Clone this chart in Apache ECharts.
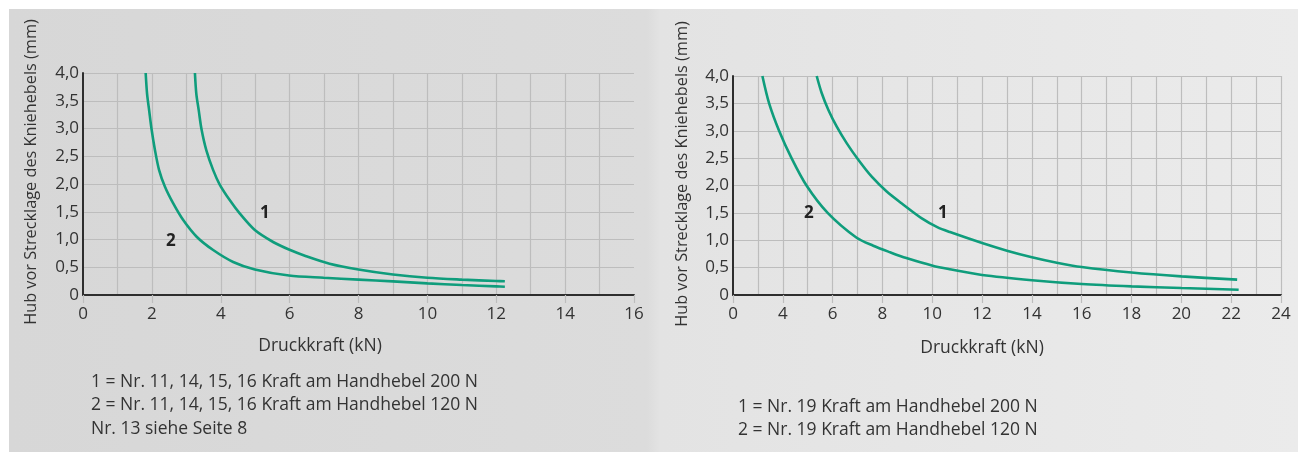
<!DOCTYPE html>
<html><head><meta charset="utf-8">
<script src="https://cdn.jsdelivr.net/npm/echarts@6/dist/echarts.min.js"></script>
<style>
html,body{margin:0;padding:0;background:#fff;}
#wrap{position:relative;width:1298px;height:452px;overflow:hidden;background:#fff;}
#bg{position:absolute;left:9px;top:9px;right:0;bottom:0;background:linear-gradient(to right,#d7d7d7 0%,#dcdcdc 49.5%,#e3e3e3 50.5%,#ebebeb 100%);}
#chart{position:absolute;left:0;top:0;width:1298px;height:452px;}
</style></head>
<body><div id="wrap"><div id="bg"></div><div id="chart"></div></div>
<script>
// ---- data ----
const leftCurve1 = [[3.25,4.0],[3.29,3.63],[3.36,3.33],[3.44,2.99],[3.58,2.61],[3.78,2.25],[3.97,1.99],[4.26,1.71],[4.55,1.47],[4.99,1.17],[5.52,0.955],[5.98,0.82],[6.48,0.70],[7.16,0.565],[8,0.46],[9,0.37],[10,0.31],[11,0.277],[12,0.252],[12.25,0.247]];
const leftCurve2 = [[1.82,4.0],[1.86,3.63],[1.92,3.33],[1.99,2.99],[2.09,2.61],[2.21,2.25],[2.38,1.95],[2.62,1.65],[2.91,1.35],[3.30,1.05],[3.78,0.81],[4.36,0.595],[4.99,0.46],[5.98,0.35],[6.99,0.31],[8,0.277],[9,0.245],[10,0.21],[11,0.18],[12,0.155],[12.25,0.148]];
const rightCurve1 = [[5.36,4.0],[5.56,3.69],[5.83,3.38],[6.16,3.08],[6.57,2.77],[7.03,2.47],[7.57,2.16],[8.17,1.89],[8.84,1.65],[9.58,1.40],[10.2,1.24],[10.71,1.15],[12,0.95],[13,0.81],[14,0.69],[15,0.59],[16,0.51],[18,0.41],[20,0.34],[22.24,0.28]];
const rightCurve2 = [[3.18,4.0],[3.45,3.5],[3.85,3.0],[4.35,2.5],[4.95,2.0],[5.8,1.5],[6.95,1.05],[7.63,0.90],[8.31,0.78],[8.96,0.675],[10.02,0.535],[10.71,0.47],[12,0.365],[14,0.27],[16,0.2],[18,0.157],[20,0.127],[22.3,0.097]];

const yTickLabels = ['0','0,5','1,0','1,5','2,0','2,5','3,0','3,5','4,0'];
const xTickLabelsLeft = ['0','2','4','6','8','10','12','14','16'];
const xTickLabelsRight = ['0','4','6','8','10','12','14','16','18','20','22','24'];

const curveLabelsLeft = [{name:'1', coord:[5.28,1.47]},{name:'2', coord:[2.55,0.97]}];
const curveLabelsRight = [{name:'1', coord:[10.43,1.5]},{name:'2', coord:[5.05,1.5]}];

const yAxisTitle = 'Hub vor Strecklage des Kniehebels (mm)';
const xAxisTitle = 'Druckkraft (kN)';
const notesLeft = ['1 = Nr. 11, 14, 15, 16 Kraft am Handhebel 200 N','2 = Nr. 11, 14, 15, 16 Kraft am Handhebel 120 N','Nr. 13 siehe Seite 8'];
const notesRight = ['1 = Nr. 19 Kraft am Handhebel 200 N','2 = Nr. 19 Kraft am Handhebel 120 N'];

// ---- styles ----
const FONT = '"Open Sans", sans-serif';
const TXT = '#333333';
const GRIDC = '#bdbdbd';
const CURVE = '#0f9d7c';

function xAxisCfg(idx, min, max, labels, padR, gap, showMax) {
  return {
    type:'value', gridIndex: idx, min: min, max: max, interval: 2,
    name: xAxisTitle, nameLocation:'middle', nameGap: gap,
    nameTextStyle:{fontFamily:FONT, fontSize:17.5, color:TXT, padding:[0,padR,0,0]},
    axisLine:{show:true, onZero:false, lineStyle:{color:'#2e2e2e', width:2}},
    axisTick:{show:true, length:8, lineStyle:{color:GRIDC, width:1.2}},
    axisLabel:{fontFamily:FONT, fontSize:17, color:TXT, margin:11,
      formatter: v => labels[Math.round((v-min)/2)]},
    splitLine:{show:true, showMinLine:false, showMaxLine:showMax, lineStyle:{color:GRIDC, width:1.2}},
    minorTick:{show:false, splitNumber:2},
    minorSplitLine:{show:true, lineStyle:{color:GRIDC, width:1.2}}
  };
}
function yAxisCfg(idx, padL, gap) {
  return {
    type:'value', gridIndex: idx, min:0, max:4, interval:0.5,
    name: yAxisTitle, nameLocation:'middle', nameRotate:90, nameGap: gap,
    nameTextStyle:{fontFamily:FONT, fontSize:16.3, color:TXT, padding:[0,0,0,padL]},
    axisLine:{show:true, lineStyle:{color:'#2e2e2e', width:2}},
    axisTick:{show:false},
    axisLabel:{fontFamily:FONT, fontSize:17, color:TXT, margin:4,
      formatter: v => yTickLabels[Math.round(v/0.5)]},
    splitLine:{show:true, showMinLine:false, lineStyle:{color:GRIDC, width:1.2}}
  };
}
function curve(data, xi, labels) {
  const s = {
    type:'line', xAxisIndex:xi, yAxisIndex:xi, data:data, smooth:0.3,
    showSymbol:false, symbol:'none', lineStyle:{color:CURVE, width:2.6}, z:5
  };
  if (labels) {
    s.markPoint = {
      symbol:'circle', symbolSize:0, silent:true,
      label:{show:true, position:'inside', formatter: p => p.name,
        fontFamily:FONT, fontSize:17, fontWeight:'bold', color:'#222'},
      data: labels
    };
  }
  return s;
}

const graphics = [];
notesLeft.forEach((t,i) => graphics.push({type:'text', x:91, y:382 + i*23.5,
  style:{text:t, font:'17.5px "Open Sans", sans-serif', fill:TXT, verticalAlign:'middle'}}));
notesRight.forEach((t,i) => graphics.push({type:'text', x:738, y:407 + i*23.5,
  style:{text:t, font:'17.5px "Open Sans", sans-serif', fill:TXT, verticalAlign:'middle'}}));

const chart = echarts.init(document.getElementById('chart'), null, {renderer:'canvas'});
chart.setOption({
  backgroundColor:'transparent',
  animation:false,
  grid:[
    {left:83, top:73, width:551, height:222, containLabel:false},
    {left:733, top:76, width:548, height:219, containLabel:false}
  ],
  xAxis:[
    xAxisCfg(0, 0, 16, xTickLabelsLeft, 77, 42, false),
    xAxisCfg(1, 2, 24, xTickLabelsRight, 50, 44, true)
  ],
  yAxis:[ yAxisCfg(0, 24, 44), yAxisCfg(1, 23, 43) ],
  series:[
    curve(leftCurve1, 0, curveLabelsLeft),
    curve(leftCurve2, 0, null),
    curve(rightCurve1, 1, curveLabelsRight),
    curve(rightCurve2, 1, null)
  ],
  graphic: graphics
});
</script>
</body></html>
